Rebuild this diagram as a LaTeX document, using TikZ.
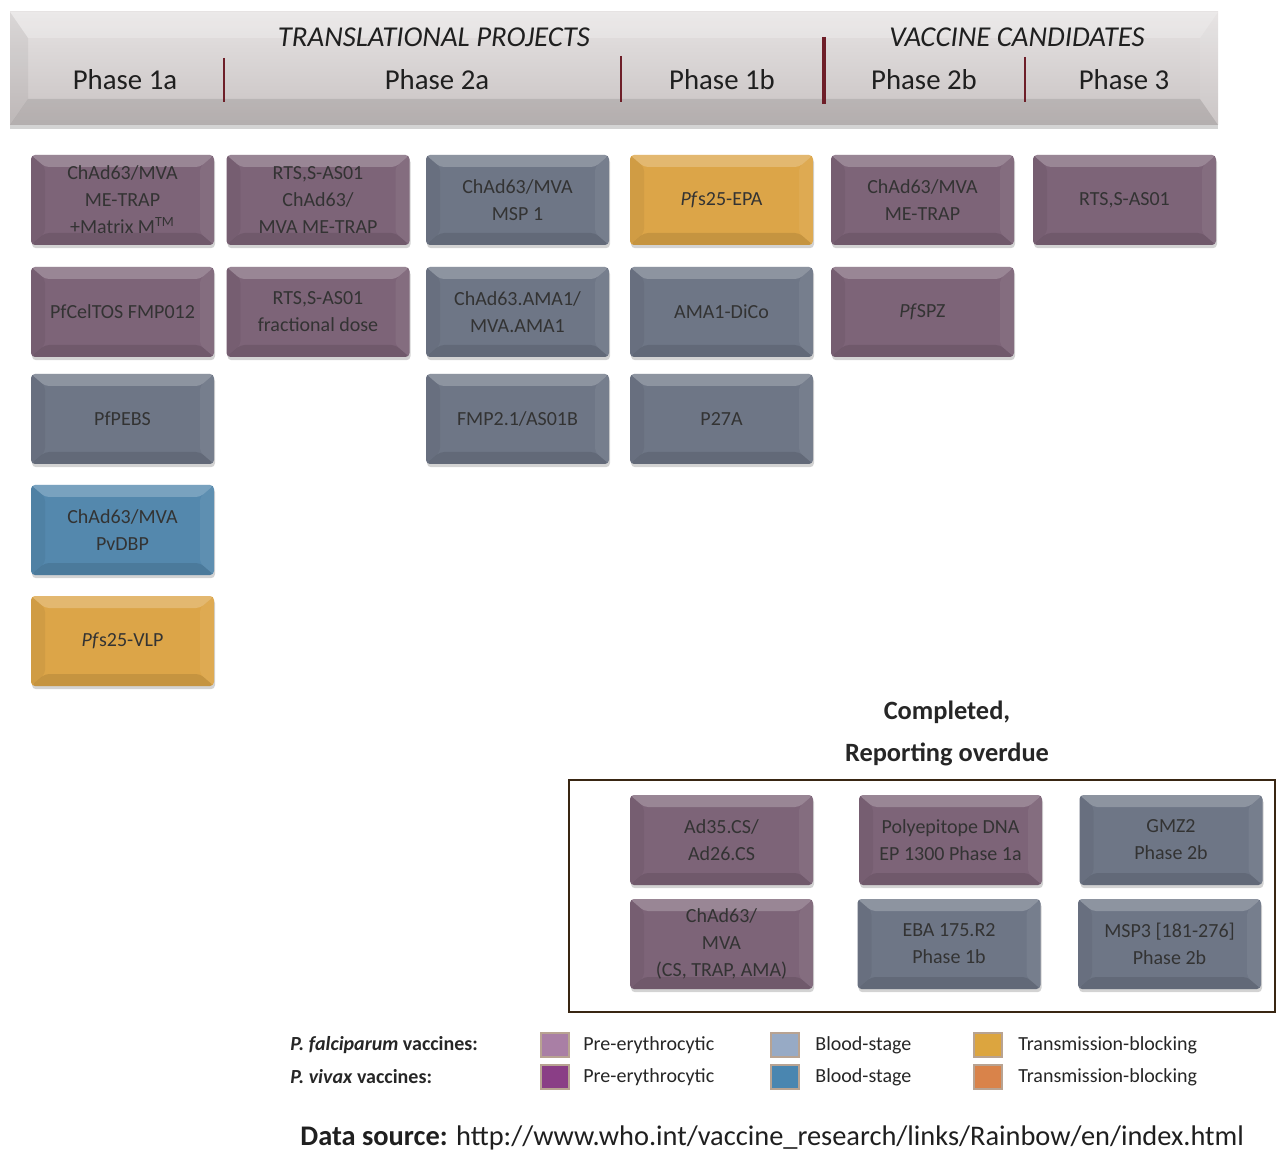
\documentclass[tikz,border=0pt]{standalone}
\usepackage{fontspec}
\setmainfont{Carlito}
\usepackage{tikz}
\usetikzlibrary{shadows}

\definecolor{preclr}{HTML}{7D6478}
\definecolor{bloodclr}{HTML}{6E7686}
\definecolor{pvbloodclr}{HTML}{5488AD}
\definecolor{transclr}{HTML}{DCA548}
\definecolor{darkred}{HTML}{6E1E28}
\definecolor{keyedge}{HTML}{B8A392}
\definecolor{pfpre}{HTML}{A97FA5}
\definecolor{pvpre}{HTML}{8A3E86}
\definecolor{pfblood}{HTML}{97AAC5}
\definecolor{pvblood}{HTML}{4A86B0}
\definecolor{pftrans}{HTML}{DCA53F}
\definecolor{pvtrans}{HTML}{D9834A}
\definecolor{bandtop}{HTML}{E6E3E3}
\definecolor{bandbot}{HTML}{C8C2C2}

\tikzset{
  bevel/.style 2 args={path picture={
    \fill[white,opacity=.22] (path picture bounding box.north west) -- (path picture bounding box.north east)
      -- ([shift={(-#1,-#2)}]path picture bounding box.north east) -- ([shift={(#1,-#2)}]path picture bounding box.north west) -- cycle;
    \fill[black,opacity=.10] (path picture bounding box.south west) -- (path picture bounding box.south east)
      -- ([shift={(-#1,#2)}]path picture bounding box.south east) -- ([shift={(#1,#2)}]path picture bounding box.south west) -- cycle;
    \fill[black,opacity=.05] (path picture bounding box.north west) -- ([shift={(#1,-#2)}]path picture bounding box.north west)
      -- ([shift={(#1,#2)}]path picture bounding box.south west) -- (path picture bounding box.south west) -- cycle;
    \fill[white,opacity=.06] (path picture bounding box.north east) -- ([shift={(-#1,-#2)}]path picture bounding box.north east)
      -- ([shift={(-#1,#2)}]path picture bounding box.south east) -- (path picture bounding box.south east) -- cycle;
  }},
  vbox/.style={rectangle, rounded corners=2pt, minimum width=91.5pt, minimum height=45pt,
    align=center, text=black!80, font=\fontsize{10}{13.5}\selectfont,
    drop shadow={shadow xshift=.5pt, shadow yshift=-1.6pt, opacity=.35}, bevel={7pt}{6pt}},
  pre/.style={vbox, fill=preclr},
  blood/.style={vbox, fill=bloodclr},
  pvblood/.style={vbox, fill=pvbloodclr},
  trans/.style={vbox, fill=transclr},
  phase/.style={font=\fontsize{14.4}{17}\selectfont, text=black!88},
  band/.style={font=\fontsize{14.4}{17}\selectfont\itshape, text=black!88},
  keybox/.style={rectangle, minimum width=14pt, minimum height=12pt, draw=keyedge, line width=.8pt},
  keytext/.style={anchor=west, inner sep=0pt, font=\fontsize{10}{12}\selectfont, text=black!85}
}

\begin{document}
\begin{tikzpicture}[x=0.5pt,y=-0.5pt]
\useasboundingbox (0,0) rectangle (1276,1155);

% header band
\node[rectangle, minimum width=604pt, minimum height=56.5pt,
  top color=bandtop, bottom color=bandbot,
  drop shadow={shadow xshift=0pt, shadow yshift=-2pt, opacity=.35},
  bevel={9pt}{13pt}] (hdr) at (614,68.5) {};
\node[band] (trans) at (434,37) {TRANSLATIONAL PROJECTS};
\node[band] (cand) at (1017,37) {VACCINE CANDIDATES};
\node[phase] (ph1a) at (125,80) {Phase 1a};
\node[phase] (ph2a) at (437,80) {Phase 2a};
\node[phase] (ph1b) at (722,80) {Phase 1b};
\node[phase] (ph2b) at (924,80) {Phase 2b};
\node[phase] (ph3) at (1124,80) {Phase 3};
\draw[darkred, line width=.7pt] (224,58) -- (224,102);
\draw[darkred, line width=.7pt] (621,56) -- (621,102);
\draw[darkred, line width=2pt] (824,37) -- (824,104);
\draw[darkred, line width=.7pt] (1025,57) -- (1025,102);

% phase 1a
\node[pre] (metrapm) at (122.5,200) {ChAd63/MVA\\ME-TRAP\\+Matrix M\textsuperscript{TM}};
\node[pre] (celtos) at (122.5,312) {PfCelTOS FMP012};
\node[blood] (pebs) at (122.5,419) {PfPEBS};
\node[pvblood] (pvdbp) at (122.5,530) {ChAd63/MVA\\PvDBP};
\node[trans] (vlp) at (122.5,641) {\textit{Pf}s25-VLP};

% phase 2a
\node[pre] (rtsme) at (318,200) {RTS,S-AS01\\ChAd63/\\MVA ME-TRAP};
\node[pre] (rtsfrac) at (318,312) {RTS,S-AS01\\fractional dose};
\node[blood] (msp1) at (517.5,200) {ChAd63/MVA\\MSP 1};
\node[blood] (ama1) at (517.5,312) {ChAd63.AMA1/\\MVA.AMA1};
\node[blood] (fmp) at (517.5,419) {FMP2.1/AS01B};

% phase 1b
\node[trans] (epa) at (721.5,200) {\textit{Pf}s25-EPA};
\node[blood] (dico) at (721.5,312) {AMA1-DiCo};
\node[blood] (p27a) at (721.5,419) {P27A};

% phase 2b
\node[pre] (metrap) at (922.5,200) {ChAd63/MVA\\ME-TRAP};
\node[pre] (spz) at (922.5,312) {\textit{Pf}SPZ};

% phase 3
\node[pre] (rts) at (1124.5,200) {RTS,S-AS01};

% completed, reporting overdue
\node[font=\fontsize{13.2}{21}\selectfont\bfseries, text=black!85, align=center] (donelbl) at (947,733) {Completed,\\Reporting overdue};
\node[rectangle, draw=black!70!brown, line width=1pt, minimum width=353pt, minimum height=116pt] (done) at (922,896) {};
\node[pre] (ad35) at (721.5,840) {Ad35.CS/\\Ad26.CS};
\node[pre] (ep1300) at (950.5,840) {Polyepitope DNA\\EP 1300 Phase 1a};
\node[blood] (gmz2) at (1171,840) {GMZ2\\Phase 2b};
\node[pre] (cstrap) at (721.5,944) {ChAd63/\\MVA\\(CS, TRAP, AMA)};
\node[blood] (eba) at (949,944) {EBA 175.R2\\Phase 1b};
\node[blood] (msp3) at (1169.5,944) {MSP3 [181-276]\\Phase 2b};

% legend
\node[keytext, font=\fontsize{10}{12}\selectfont\bfseries] (pflbl) at (290,1045) {\textit{P. falciparum} vaccines:};
\node[keytext, font=\fontsize{10}{12}\selectfont\bfseries] (pvlbl) at (290,1077) {\textit{P. vivax} vaccines:};
\node[keybox, fill=pfpre] (k1) at (555,1045) {};
\node[keybox, fill=pvpre] (k2) at (555,1077) {};
\node[keybox, fill=pfblood] (k3) at (785,1045) {};
\node[keybox, fill=pvblood] (k4) at (785,1077) {};
\node[keybox, fill=pftrans] (k5) at (988,1045) {};
\node[keybox, fill=pvtrans] (k6) at (988,1077) {};
\node[keytext] (t1) at (583,1045) {Pre-erythrocytic};
\node[keytext] (t2) at (583,1077) {Pre-erythrocytic};
\node[keytext] (t3) at (815,1045) {Blood-stage};
\node[keytext] (t4) at (815,1077) {Blood-stage};
\node[keytext] (t5) at (1018,1045) {Transmission-blocking};
\node[keytext] (t6) at (1018,1077) {Transmission-blocking};

\node[anchor=west, inner sep=0pt, font=\fontsize{14.2}{16}\selectfont, text=black!88] (src) at (300,1138)
  {\textbf{Data source:} http://www.who.int/vaccine\_research/links/Rainbow/en/index.html};
\end{tikzpicture}
\end{document}
